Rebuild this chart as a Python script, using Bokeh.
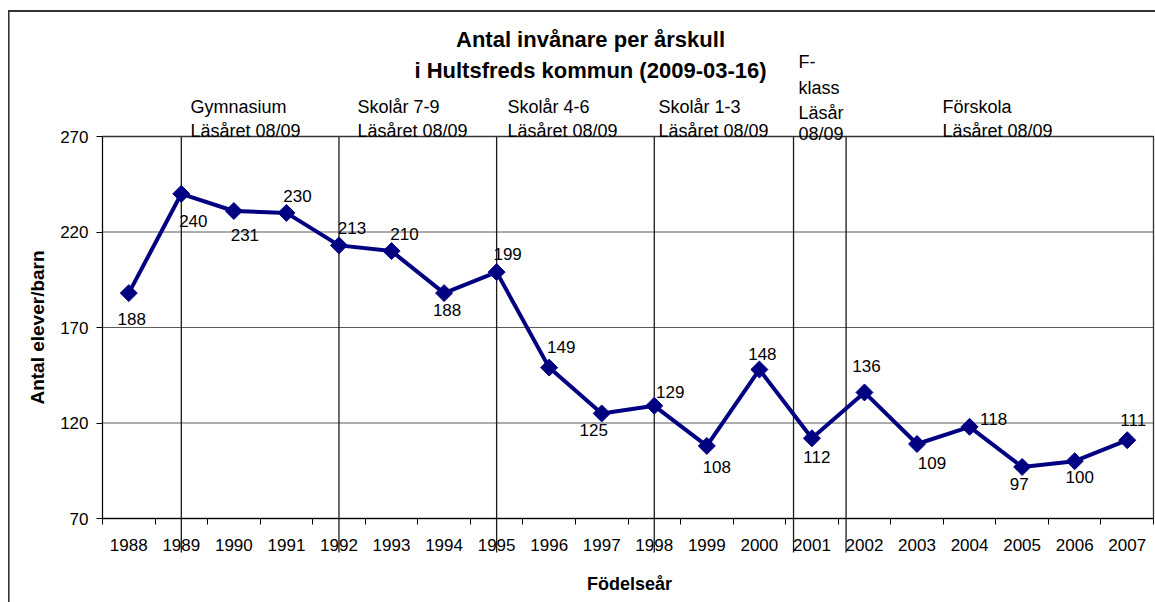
import math
from bokeh.plotting import figure
from bokeh.models import ColumnDataSource, FixedTicker, Label, Arrow, Range1d, LinearAxis
from bokeh.core.properties import value
from bokeh.embed import file_html
from bokeh.resources import INLINE

# ---------------- data ----------------
years = [1988, 1989, 1990, 1991, 1992, 1993, 1994, 1995, 1996, 1997,
         1998, 1999, 2000, 2001, 2002, 2003, 2004, 2005, 2006, 2007]
counts = [188, 240, 231, 230, 213, 210, 188, 199, 149, 125,
          129, 108, 148, 112, 136, 109, 118, 97, 100, 111]
y_ticks = [70, 120, 170, 220, 270]
stage_bounds = [1989, 1992, 1995, 1998, 2000.65, 2001.65]
stage_texts = [
    ["Gymnasium", "Läsåret 08/09"],
    ["Skolår 7-9", "Läsåret 08/09"],
    ["Skolår 4-6", "Läsåret 08/09"],
    ["Skolår 1-3", "Läsåret 08/09"],
    ["F-", "klass", "Läsår", "08/09"],
    ["Förskola", "Läsåret 08/09"],
]
title_lines = ["Antal invånare per årskull", "i Hultsfreds kommun (2009-03-16)"]
x_title = "Födelseår"
y_title = "Antal elever/barn"

# ---------------- styles / layout ----------------
label_dx = [3, 12, 11, 11, 13, 13, 3, 11, 12, -8, 16, 10, 3, 5, 2, 15, 24, -3, 5, 6]
label_dy = [26, 27, 24, -17, -17, -17, 17, -18, -21, 17, -14, 21, -16, 19, -26, 19, -8, 17, 16, -20]
stage_px = [190, 357, 507, 658, 798, 942]              # left edge of each stage text (px)
stage_py = {2: [106.7, 130.5], 4: [61.7, 87, 112.7, 133.3]}  # baselines (px from top)

FONT = "Liberation Sans"
NAVY = "#000080"
CW, CH = 1155, 602                      # canvas
PL, PR, PT, PB = 102, 1153, 136, 518    # plot-area edges (px)

x0, x1 = years[0] - 0.5, years[-1] + 0.5
xu = (x1 - x0) / (PR - PL)
yu = (y_ticks[-1] - y_ticks[0]) / (PB - PT)
x_range = Range1d(x0 - PL * xu, x1 + (CW - PR) * xu)
y_range = Range1d(y_ticks[0] - (CH - PB) * yu, y_ticks[-1] + PT * yu)

p = figure(width=CW, height=CH, output_backend="svg", toolbar_location=None,
           x_range=x_range, y_range=y_range,
           x_axis_location=None, y_axis_location=None, min_border=0)
p.min_border_left = p.min_border_right = p.min_border_top = p.min_border_bottom = 0
p.background_fill_color = "white"
p.border_fill_color = "white"
p.outline_line_color = None
p.grid.visible = False

# horizontal gridlines at y ticks, across the plot area
p.segment(x0=[x0] * len(y_ticks), y0=y_ticks, x1=[x1] * len(y_ticks), y1=y_ticks,
          line_color="#5a5a5a", line_width=1)

# stage separator lines (extend below the axis into the tick labels)
y_low = y_ticks[0] - (552 - PB) * yu
p.segment(x0=stage_bounds, y0=[y_ticks[-1]] * len(stage_bounds),
          x1=stage_bounds, y1=[y_low] * len(stage_bounds),
          line_color="#1a1a1a", line_width=1.3)

# plot-area border
p.quad(left=[x0], right=[x1], bottom=[y_ticks[0]], top=[y_ticks[-1]],
       fill_color=None, line_color="#333333", line_width=1.3)

# axes
xa = LinearAxis(fixed_location=y_ticks[0], bounds=(x0, x1))
xa.ticker = FixedTicker(ticks=years, minor_ticks=[y - 0.5 for y in years] + [years[-1] + 0.5])
xa.major_label_overrides = {y: str(y) for y in years}
xa.major_tick_in = 0
xa.major_tick_out = 0
xa.minor_tick_in = 0
xa.minor_tick_out = 6
xa.minor_tick_line_color = "black"
xa.axis_line_color = "black"
xa.major_label_standoff = 14
xa.major_label_text_font = FONT
xa.major_label_text_font_size = "17px"
xa.major_label_text_color = "black"
p.add_layout(xa, "below")

ya = LinearAxis(fixed_location=x0, bounds=(y_ticks[0], y_ticks[-1]))
ya.ticker = FixedTicker(ticks=y_ticks)
ya.major_tick_in = 0
ya.major_tick_out = 6
ya.minor_tick_line_color = None
ya.axis_line_color = "black"
ya.major_tick_line_color = "black"
ya.major_label_standoff = 8
ya.major_label_text_font = FONT
ya.major_label_text_font_size = "17px"
ya.major_label_text_color = "black"
p.add_layout(ya, "left")

# series
src = ColumnDataSource(dict(year=years, count=counts, label=[str(c) for c in counts],
                            dx=label_dx, dy=label_dy))
p.line(x="year", y="count", source=src, line_color=NAVY, line_width=4)
p.scatter(x="year", y="count", source=src, marker="square", angle=math.pi / 4, size=12,
          fill_color=NAVY, line_color=NAVY, line_width=1)
p.text(x="year", y="count", text="label", source=src, x_offset="dx", y_offset="dy",
       text_align="center", text_baseline="middle", text_font=value(FONT),
       text_font_size="17px", text_color="black")

# title
for t, by in zip(title_lines, [39, 70]):
    p.add_layout(Label(x=590, y=CH - by, x_units="screen", y_units="screen", text=t,
                       text_align="center", text_baseline="alphabetic", text_font=FONT,
                       text_font_size="22px", text_font_style="bold", text_color="black"))

# stage labels
for sx, lines in zip(stage_px, stage_texts):
    for t, by in zip(lines, stage_py[len(lines)]):
        p.add_layout(Label(x=sx, y=CH - by, x_units="screen", y_units="screen", text=t,
                           text_align="left", text_baseline="alphabetic", text_font=FONT,
                           text_font_size="18px", text_color="black"))

# axis titles
p.add_layout(Label(x=629, y=CH - 583, x_units="screen", y_units="screen", text=x_title,
                   text_align="center", text_baseline="alphabetic", text_font=FONT,
                   text_font_size="18px", text_font_style="bold", text_color="black"))
p.add_layout(Label(x=37, y=CH - 327, x_units="screen", y_units="screen", text=y_title,
                   angle=math.pi / 2, text_align="center", text_baseline="middle",
                   text_font=FONT, text_font_size="19px", text_font_style="bold",
                   text_color="black"))

# outer chart border (left and top)
p.add_layout(Arrow(end=None, x_start=8.3, y_start=-5, x_end=8.3, y_end=CH - 10.5,
                   start_units="screen", end_units="screen", line_color="#333333", line_width=1.6))
p.add_layout(Arrow(end=None, x_start=7.5, y_start=CH - 10.5, x_end=CW + 5, y_end=CH - 10.5,
                   start_units="screen", end_units="screen", line_color="#333333", line_width=1.8))

open("out.html", "w").write(file_html(p, INLINE))
